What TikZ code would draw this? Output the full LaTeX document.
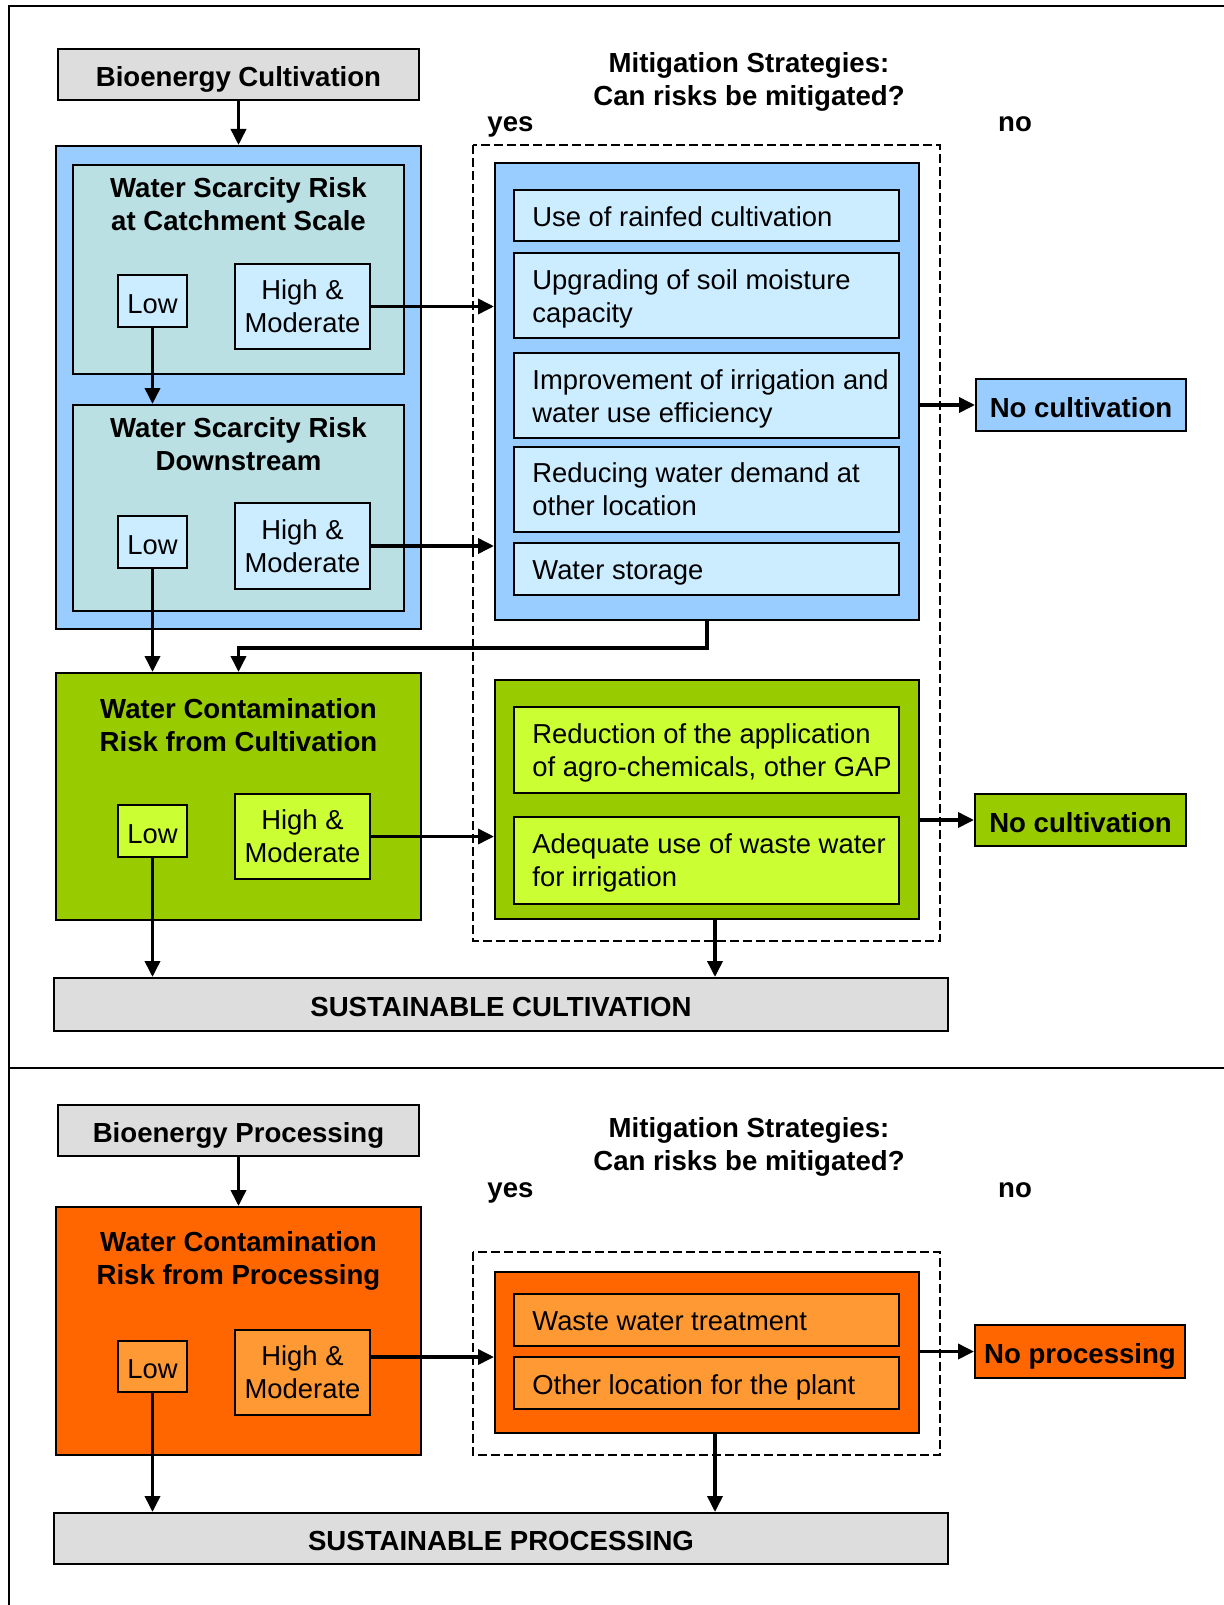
\documentclass[tikz,border=0pt]{standalone}
\usepackage{fontspec}
\setmainfont{Liberation Sans}
\usetikzlibrary{arrows.meta}
\definecolor{cgray}{HTML}{DDDDDD}
\definecolor{cblue}{HTML}{99CCFF}
\definecolor{cteal}{HTML}{BBE0E3}
\definecolor{clight}{HTML}{CCECFF}
\definecolor{cgreen}{HTML}{99CC00}
\definecolor{cgreenl}{HTML}{CCFF33}
\definecolor{corange}{HTML}{FF6600}
\definecolor{corangel}{HTML}{FF9933}
\begin{document}
\begin{tikzpicture}[x=0.5pt,y=-0.5pt,
  fs/.style={font=\fontsize{13.7pt}{16.5pt}\selectfont},
  bf/.style={font=\fontsize{13.8pt}{16.5pt}\selectfont\bfseries},
  box/.style={draw=black, line width=1pt, inner sep=0pt, fs, align=center},
  one/.style={text height=12.4pt, text depth=0pt},
  bbox/.style={box, bf, one},
  sz/.style 2 args={minimum width=#1*0.5pt, minimum height=#2*0.5pt},
  txt/.style={inner sep=0pt, fs, align=left, anchor=north west},
  ttl/.style={inner sep=0pt, bf, align=center, anchor=north},
  lbl/.style={inner sep=0pt, bf, anchor=base},
  arr/.style={line width=1.8pt, -{Triangle[width=7.5pt,length=8pt]}},
  dbox/.style={draw, line width=1pt, dash pattern=on 4.5pt off 2pt},
  frame/.style={line width=1.3pt}]
\useasboundingbox (0,0) rectangle (1224,1605);
% frame
\draw[frame] (1224,6) -- (9,6) -- (9,1605);
\draw[frame] (9,1068) -- (1224,1068);

% ================= Cultivation =================
\node[bbox,fill=cgray,sz={361}{51}] (bioC) at (238.5,74.5) {Bioenergy Cultivation};
\node[ttl] (mit1) at (749,52) {Mitigation Strategies:\\Can risks be mitigated?};
\node[lbl] (yes1) at (510.5,131.5) {yes};
\node[lbl] (no1) at (1015,131.5) {no};

\node[box,fill=cblue,sz={365}{483}] (blueL) at (238.5,387.5) {};
\node[box,fill=cteal,sz={331}{209}] (teal1) at (238.5,269.5) {};
\node[ttl] (t1) at (238.5,177) {Water Scarcity Risk\\at Catchment Scale};
\node[box,one,fill=clight,sz={69}{52}] (low1) at (152.5,301) {Low};
\node[box,fill=clight,sz={135}{85}] (high1) at (302.5,306.5) {High \&\\Moderate};
\node[box,fill=cteal,sz={331}{206}] (teal2) at (238.5,508) {};
\node[ttl] (t2) at (238.5,417) {Water Scarcity Risk\\Downstream};
\node[box,one,fill=clight,sz={69}{52}] (low2) at (152.5,542) {Low};
\node[box,fill=clight,sz={135}{86}] (high2) at (302.5,546) {High \&\\Moderate};

\draw[dbox] (473,145) rectangle (940,941);

\node[box,fill=cblue,sz={424}{457}] (blueR) at (707,391.5) {};
\node[box,fill=clight,sz={385}{51}] (s1) at (706.5,216) {};
\node[txt] (ts1) at (532,206) {Use of rainfed cultivation};
\node[box,fill=clight,sz={385}{85}] (s2) at (706.5,295.5) {};
\node[txt] (ts2) at (532,269) {Upgrading of soil moisture\\capacity};
\node[box,fill=clight,sz={385}{85}] (s3) at (706.5,395.5) {};
\node[txt] (ts3) at (532,369) {Improvement of irrigation and\\water use efficiency};
\node[box,fill=clight,sz={385}{85}] (s4) at (706.5,489.5) {};
\node[txt] (ts4) at (532,462) {Reducing water demand at\\other location};
\node[box,fill=clight,sz={385}{52}] (s5) at (706.5,569) {};
\node[txt] (ts5) at (532,560.5) {Water storage};

\node[bbox,fill=cblue,sz={210}{52}] (noC1) at (1081,405) {No cultivation};

\node[box,fill=cgreen,sz={365}{247}] (greenL) at (238.5,796.5) {};
\node[ttl] (t3) at (238.5,698) {Water Contamination\\Risk from Cultivation};
\node[box,one,fill=cgreenl,sz={69}{52}] (low3) at (152.5,831) {Low};
\node[box,fill=cgreenl,sz={135}{85}] (high3) at (302.5,836.5) {High \&\\Moderate};

\node[box,fill=cgreen,sz={424}{239}] (greenR) at (707,799.5) {};
\node[box,fill=cgreenl,sz={385}{86}] (g1) at (706.5,750) {};
\node[txt] (tg1) at (532,723) {Reduction of the application\\of agro-chemicals, other GAP};
\node[box,fill=cgreenl,sz={385}{87}] (g2) at (706.5,860.5) {};
\node[txt] (tg2) at (532,833) {Adequate use of waste water\\for irrigation};

\node[bbox,fill=cgreen,sz={211}{52}] (noC2) at (1080.5,820) {No cultivation};

\node[bbox,fill=cgray,sz={894}{53}] (sustC) at (501,1004.5) {SUSTAINABLE CULTIVATION};

\draw[arr] (bioC.south) -- (blueL.north);
\draw[arr] (high1.east) -- (high1.east -| blueR.west);
\draw[arr] (low1.south) -- (low1.south |- teal2.north);
\draw[arr] (high2.east) -- (high2.east -| blueR.west);
\draw[arr] (low2.south) -- (low2.south |- greenL.north);
\draw[arr] (blueR.south) -- ++(0,27) -| (greenL.north);
\draw[arr] (noC1.west -| blueR.east) -- (noC1.west);
\draw[arr] (high3.east) -- (high3.east -| greenR.west);
\draw[arr] (noC2.west -| greenR.east) -- (noC2.west);
\draw[arr] (low3.south) -- (low3.south |- sustC.north);
\coordinate (cx1) at (715,0);
\draw[arr] (cx1 |- greenR.south) -- (cx1 |- sustC.north);

% ================= Processing =================
\node[bbox,fill=cgray,sz={361}{51}] (bioP) at (238.5,1130.5) {Bioenergy Processing};
\node[ttl] (mit2) at (749,1117) {Mitigation Strategies:\\Can risks be mitigated?};
\node[lbl] (yes2) at (510.5,1197) {yes};
\node[lbl] (no2) at (1015,1197) {no};

\node[box,fill=corange,sz={365}{248}] (orangeL) at (238.5,1331) {};
\node[ttl] (t4) at (238.5,1231.5) {Water Contamination\\Risk from Processing};
\node[box,one,fill=corangel,sz={69}{51}] (low4) at (152.5,1366.5) {Low};
\node[box,fill=corangel,sz={135}{85}] (high4) at (302.5,1372.5) {High \&\\Moderate};

\draw[dbox] (473,1252) rectangle (940,1455);

\node[box,fill=corange,sz={424}{161}] (orangeR) at (707,1352.5) {};
\node[box,fill=corangel,sz={385}{52}] (o1) at (706.5,1320) {};
\node[txt] (to1) at (532,1311.5) {Waste water treatment};
\node[box,fill=corangel,sz={385}{52}] (o2) at (706.5,1383) {};
\node[txt] (to2) at (532,1374.5) {Other location for the plant};

\node[bbox,fill=corange,sz={210}{53}] (noP) at (1080,1351.5) {No processing};

\node[bbox,fill=cgray,sz={894}{51}] (sustP) at (501,1538.5) {SUSTAINABLE PROCESSING};

\draw[arr] (bioP.south) -- (orangeL.north);
\coordinate (cy4) at (0,1357);
\draw[arr] (high4.east |- cy4) -- (orangeR.west |- cy4);
\draw[arr] (noP.west -| orangeR.east) -- (noP.west);
\draw[arr] (low4.south) -- (low4.south |- sustP.north);
\draw[arr] (cx1 |- orangeR.south) -- (cx1 |- sustP.north);
\end{tikzpicture}
\end{document}
